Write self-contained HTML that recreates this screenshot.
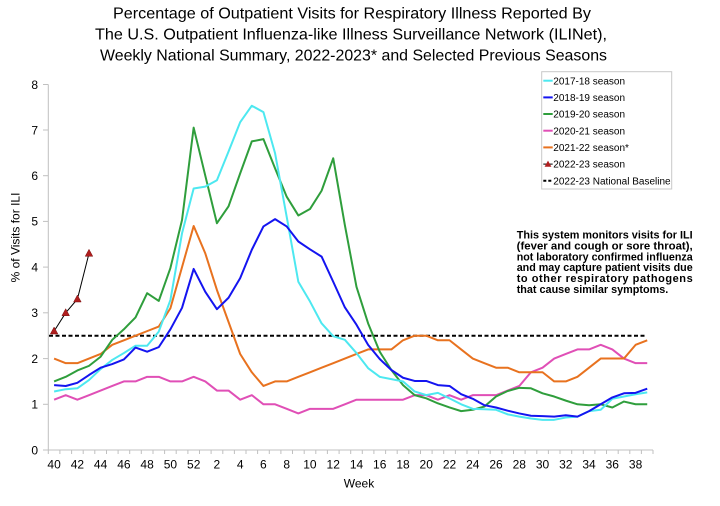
<!DOCTYPE html>
<html>
<head>
<meta charset="utf-8">
<style>
  html, body { margin:0; padding:0; background:#fff; }
  svg { display:block; }
  text { font-family: "Liberation Sans", Arial, sans-serif; fill:#000; }
</style>
</head>
<body>
<svg width="720" height="506" viewBox="0 0 720 506" xmlns="http://www.w3.org/2000/svg">
  <rect x="0" y="0" width="720" height="506" fill="#fff"/>

  <!-- Title -->
  <text x="352" y="18.5" font-size="16" text-anchor="middle" textLength="478" lengthAdjust="spacingAndGlyphs">Percentage of Outpatient Visits for Respiratory Illness Reported By</text>
  <text x="351" y="39.6" font-size="16" text-anchor="middle" textLength="512" lengthAdjust="spacingAndGlyphs">The U.S. Outpatient Influenza-like Illness Surveillance Network (ILINet),</text>
  <text x="353.5" y="60.7" font-size="16" text-anchor="middle" textLength="507" lengthAdjust="spacingAndGlyphs">Weekly National Summary, 2022-2023* and Selected Previous Seasons</text>

  <!-- Axes -->
  <g stroke="#c0c0c0" stroke-width="1" fill="none">
    <line x1="48.3" y1="84.5" x2="48.3" y2="450"/>
    <line x1="48.3" y1="450" x2="653" y2="450"/>
    <!-- y ticks -->
    <line x1="43" y1="450" x2="48.3" y2="450"/>
    <line x1="43" y1="404.3" x2="48.3" y2="404.3"/>
    <line x1="43" y1="358.6" x2="48.3" y2="358.6"/>
    <line x1="43" y1="312.8" x2="48.3" y2="312.8"/>
    <line x1="43" y1="267.1" x2="48.3" y2="267.1"/>
    <line x1="43" y1="221.4" x2="48.3" y2="221.4"/>
    <line x1="43" y1="175.7" x2="48.3" y2="175.7"/>
    <line x1="43" y1="130" x2="48.3" y2="130"/>
    <line x1="43" y1="84.5" x2="48.3" y2="84.5"/>
  </g>
  <!-- x ticks -->
  <g stroke="#c0c0c0" stroke-width="1">
    <path d="M48.3 450v4 M59.9 450v4 M71.6 450v4 M83.2 450v4 M94.8 450v4 M106.5 450v4 M118.1 450v4 M129.7 450v4 M141.3 450v4 M153 450v4 M164.6 450v4 M176.2 450v4 M187.9 450v4 M199.5 450v4 M211.1 450v4 M222.8 450v4 M234.4 450v4 M246 450v4 M257.6 450v4 M269.3 450v4 M280.9 450v4 M292.5 450v4 M304.2 450v4 M315.8 450v4 M327.4 450v4 M339.1 450v4 M350.7 450v4 M362.3 450v4 M373.9 450v4 M385.6 450v4 M397.2 450v4 M408.8 450v4 M420.5 450v4 M432.1 450v4 M443.7 450v4 M455.4 450v4 M467 450v4 M478.6 450v4 M490.2 450v4 M501.9 450v4 M513.5 450v4 M525.1 450v4 M536.8 450v4 M548.4 450v4 M560 450v4 M571.7 450v4 M583.3 450v4 M594.9 450v4 M606.5 450v4 M618.2 450v4 M629.8 450v4 M641.4 450v4 M653 450v4"/>
  </g>

  <!-- y tick labels -->
  <g font-size="12" text-anchor="end">
    <text x="38" y="454.3">0</text>
    <text x="38" y="408.6">1</text>
    <text x="38" y="362.9">2</text>
    <text x="38" y="317.1">3</text>
    <text x="38" y="271.4">4</text>
    <text x="38" y="225.7">5</text>
    <text x="38" y="180">6</text>
    <text x="38" y="134.3">7</text>
    <text x="38" y="88.8">8</text>
  </g>

  <!-- x tick labels -->
  <g font-size="12" text-anchor="middle">
    <text x="54.1" y="468.3">40</text>
    <text x="77.4" y="468.3">42</text>
    <text x="100.6" y="468.3">44</text>
    <text x="123.9" y="468.3">46</text>
    <text x="147.1" y="468.3">48</text>
    <text x="170.4" y="468.3">50</text>
    <text x="193.7" y="468.3">52</text>
    <text x="216.9" y="468.3">2</text>
    <text x="240.2" y="468.3">4</text>
    <text x="263.4" y="468.3">6</text>
    <text x="286.7" y="468.3">8</text>
    <text x="309.9" y="468.3">10</text>
    <text x="333.2" y="468.3">12</text>
    <text x="356.5" y="468.3">14</text>
    <text x="379.7" y="468.3">16</text>
    <text x="403" y="468.3">18</text>
    <text x="426.2" y="468.3">20</text>
    <text x="449.5" y="468.3">22</text>
    <text x="472.8" y="468.3">24</text>
    <text x="496" y="468.3">26</text>
    <text x="519.3" y="468.3">28</text>
    <text x="542.5" y="468.3">30</text>
    <text x="565.8" y="468.3">32</text>
    <text x="589" y="468.3">34</text>
    <text x="612.3" y="468.3">36</text>
    <text x="635.6" y="468.3">38</text>
  </g>

  <!-- axis titles -->
  <text x="359" y="487.5" font-size="12" text-anchor="middle">Week</text>
  <text transform="translate(19.5,237.5) rotate(-90)" font-size="12" text-anchor="middle">% of Visits for ILI</text>

  <!-- Baseline -->
  <line x1="49" y1="335.7" x2="646" y2="335.7" stroke="#000" stroke-width="2" stroke-dasharray="4,2.5"/>

  <!-- Series -->
  <g transform="matrix(11.63 0 0 -45.72 54.1 450)" fill="none" stroke-linejoin="round">
    <!-- 2020-21 pink -->
    <polyline vector-effect="non-scaling-stroke" stroke="#e04fb6" stroke-width="2"
      points="0,1.1 1,1.2 2,1.1 3,1.2 4,1.3 5,1.4 6,1.5 7,1.5 8,1.6 9,1.6 10,1.5 11,1.5 12,1.6 13,1.5 14,1.3 15,1.3 16,1.1 17,1.2 18,1.0 19,1.0 20,0.9 21,0.8 22,0.9 23,0.9 24,0.9 25,1.0 26,1.1 27,1.1 28,1.1 29,1.1 30,1.1 31,1.2 32,1.2 33,1.1 34,1.2 35,1.1 36,1.2 37,1.2 38,1.2 39,1.3 40,1.4 41,1.7 42,1.8 43,2.0 44,2.1 45,2.2 46,2.2 47,2.3 48,2.2 49,2.0 50,1.9 51,1.9"/>
    <!-- 2021-22 orange -->
    <polyline vector-effect="non-scaling-stroke" stroke="#e8721f" stroke-width="2"
      points="0,2.0 1,1.9 2,1.9 3,2.0 4,2.1 5,2.3 6,2.4 7,2.5 8,2.6 9,2.7 10,3.1 11,4.0 12,4.9 13,4.3 14,3.5 15,2.8 16,2.1 17,1.7 18,1.4 19,1.5 20,1.5 21,1.6 22,1.7 23,1.8 24,1.9 25,2.0 26,2.1 27,2.2 28,2.2 29,2.2 30,2.4 31,2.5 32,2.5 33,2.4 34,2.4 35,2.2 36,2.0 37,1.9 38,1.8 39,1.8 40,1.7 41,1.7 42,1.7 43,1.5 44,1.5 45,1.6 46,1.8 47,2.0 48,2.0 49,2.0 50,2.3 51,2.4"/>
    <!-- 2019-20 green -->
    <polyline vector-effect="non-scaling-stroke" stroke="#2f9e3c" stroke-width="2"
      points="0,1.5 1,1.6 2,1.74 3,1.84 4,2.04 5,2.41 6,2.64 7,2.9 8,3.43 9,3.26 10,3.98 11,5.03 12,7.05 13,6.0 14,4.96 15,5.33 16,6.05 17,6.75 18,6.8 19,6.16 20,5.54 21,5.13 22,5.27 23,5.67 24,6.38 25,4.92 26,3.57 27,2.77 28,2.15 29,1.75 30,1.42 31,1.2 32,1.13 33,1.02 34,0.93 35,0.85 36,0.88 37,0.95 38,1.17 39,1.29 40,1.36 41,1.35 42,1.24 43,1.17 44,1.08 45,1.0 46,0.98 47,1.0 48,0.93 49,1.06 50,1.0 51,1.0"/>
    <!-- 2017-18 cyan -->
    <polyline vector-effect="non-scaling-stroke" stroke="#4de8f0" stroke-width="2"
      points="0,1.28 1,1.33 2,1.35 3,1.53 4,1.77 5,1.97 6,2.12 7,2.28 8,2.28 9,2.59 10,3.28 11,4.74 12,5.72 13,5.76 14,5.9 15,6.53 16,7.17 17,7.53 18,7.39 19,6.49 20,5.1 21,3.68 22,3.25 23,2.77 24,2.49 25,2.41 26,2.12 27,1.79 28,1.6 29,1.55 30,1.5 31,1.28 32,1.2 33,1.25 34,1.13 35,1.0 36,0.9 37,0.89 38,0.88 39,0.78 40,0.73 41,0.69 42,0.66 43,0.66 44,0.71 45,0.73 46,0.85 47,0.88 48,1.12 49,1.17 50,1.22 51,1.26"/>
    <!-- 2018-19 blue -->
    <polyline vector-effect="non-scaling-stroke" stroke="#1414f0" stroke-width="2"
      points="0,1.42 1,1.4 2,1.47 3,1.64 4,1.8 5,1.88 6,1.98 7,2.24 8,2.15 9,2.25 10,2.64 11,3.11 12,3.96 13,3.46 14,3.08 15,3.33 16,3.76 17,4.38 18,4.89 19,5.05 20,4.89 21,4.56 22,4.39 23,4.23 24,3.68 25,3.12 26,2.74 27,2.3 28,1.99 29,1.75 30,1.58 31,1.51 32,1.51 33,1.42 34,1.4 35,1.22 36,1.12 37,0.98 38,0.93 39,0.86 40,0.8 41,0.75 42,0.74 43,0.73 44,0.76 45,0.73 46,0.85 47,1.0 48,1.15 49,1.24 50,1.25 51,1.34"/>
  </g>

  <!-- 2022-23 season -->
  <polyline points="54.1,331.1 65.7,312.8 77.4,299.1 89.0,253.4" fill="none" stroke="#000" stroke-width="1"/>
  <g fill="#b01e1e" stroke="#7a1010" stroke-width="0.5">
    <polygon points="54.1,327 50.3,334 57.9,334"/>
    <polygon points="65.7,308.7 61.9,315.7 69.5,315.7"/>
    <polygon points="77.4,295 73.6,302 81.2,302"/>
    <polygon points="89.0,249.3 85.2,256.3 92.8,256.3"/>
  </g>

  <!-- Legend -->
  <rect x="541.7" y="71.7" width="130" height="117.3" fill="#fff" stroke="#c8c8c8" stroke-width="1"/>
  <g stroke-width="2">
    <line x1="543.3" y1="80.7" x2="552.7" y2="80.7" stroke="#4de8f0"/>
    <line x1="543.3" y1="97.4" x2="552.7" y2="97.4" stroke="#1414f0"/>
    <line x1="543.3" y1="114" x2="552.7" y2="114" stroke="#2f9e3c"/>
    <line x1="543.3" y1="130.7" x2="552.7" y2="130.7" stroke="#e04fb6"/>
    <line x1="543.3" y1="147.4" x2="552.7" y2="147.4" stroke="#e8721f"/>
    <line x1="543.3" y1="164.1" x2="552.7" y2="164.1" stroke="#000" stroke-width="1"/>
    <line x1="543.3" y1="180.7" x2="552.7" y2="180.7" stroke="#000" stroke-dasharray="3,2"/>
  </g>
  <polygon points="548,160.6 544.6,166.8 551.4,166.8" fill="#b01e1e"/>
  <g font-size="10">
    <text x="553.3" y="84.3">2017-18 season</text>
    <text x="553.3" y="101">2018-19 season</text>
    <text x="553.3" y="117.6">2019-20 season</text>
    <text x="553.3" y="134.3">2020-21 season</text>
    <text x="553.3" y="151">2021-22 season*</text>
    <text x="553.3" y="167.7">2022-23 season</text>
    <text x="553.3" y="184.3">2022-23 National Baseline</text>
  </g>

  <!-- Annotation -->
  <g font-size="11" font-weight="bold">
    <text x="516.7" y="238.7" textLength="176" lengthAdjust="spacingAndGlyphs">This system monitors visits for ILI</text>
    <text x="516.7" y="249.6" textLength="176" lengthAdjust="spacingAndGlyphs">(fever and cough or sore throat),</text>
    <text x="516.7" y="260.4" textLength="176" lengthAdjust="spacingAndGlyphs">not laboratory confirmed influenza</text>
    <text x="516.7" y="271.2" textLength="176" lengthAdjust="spacingAndGlyphs">and may capture patient visits due</text>
    <text x="516.7" y="282" textLength="176" lengthAdjust="spacing">to other respiratory pathogens</text>
    <text x="516.7" y="292.8" textLength="151.6" lengthAdjust="spacingAndGlyphs">that cause similar symptoms.</text>
  </g>
</svg>
</body>
</html>
